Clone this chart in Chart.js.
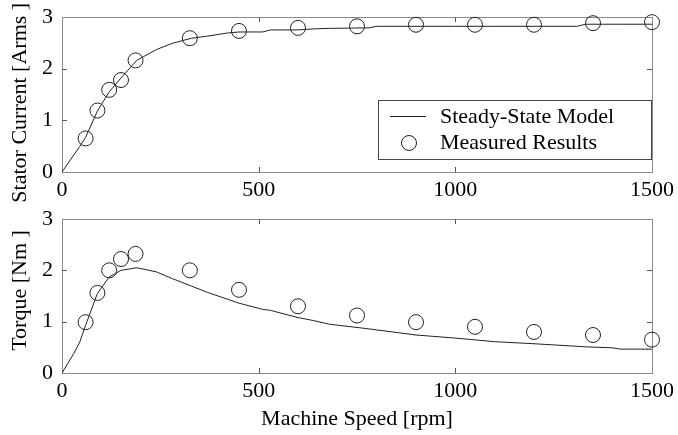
<!DOCTYPE html>
<html>
<head>
<meta charset="utf-8">
<script src="https://cdn.jsdelivr.net/npm/chart.js@4.4.0/dist/chart.umd.min.js"></script>
<style>
  html, body { margin: 0; padding: 0; background: #fff; }
  #wrap { position: relative; width: 678px; height: 435px; overflow: hidden; }
  .box { position: absolute; left: 0; width: 678px; }
  #topBox { top: 0; height: 215px; }
  #botBox { top: 195px; height: 240px; }
</style>
</head>
<body>
<div id="wrap">
  <div class="box" id="topBox"><canvas id="currentChart"></canvas></div>
  <div class="box" id="botBox"><canvas id="torqueChart"></canvas></div>
</div>
<script>
// Measured points (rpm)
const measuredSpeed = [60, 90, 120, 150, 187, 325, 450, 600, 750, 900, 1050, 1200, 1350, 1500];
const measuredCurrent = [0.65, 1.19, 1.59, 1.78, 2.16, 2.59, 2.73, 2.79, 2.82, 2.85, 2.85, 2.85, 2.88, 2.9];
const measuredTorque = [0.99, 1.56, 2.0, 2.22, 2.32, 2.0, 1.62, 1.3, 1.12, 0.99, 0.9, 0.8, 0.74, 0.65];

// Steady-state model curves
const modelSpeed = [0, 30, 45, 60, 90, 120, 150, 190, 240, 280, 330, 370, 420, 450, 510, 530, 600, 640, 680, 780, 800, 900, 1000, 1100, 1200, 1310, 1330, 1400, 1420, 1500];
const modelCurrent = [0, 0.33, 0.49, 0.67, 1.18, 1.55, 1.82, 2.16, 2.37, 2.49, 2.59, 2.63, 2.69, 2.71, 2.71, 2.75, 2.75, 2.77, 2.78, 2.79, 2.82, 2.82, 2.82, 2.82, 2.82, 2.82, 2.86, 2.86, 2.86, 2.86];
const modelTorque = [0, 0.38, 0.6, 0.93, 1.55, 1.87, 2.0, 2.05, 1.97, 1.84, 1.69, 1.57, 1.44, 1.36, 1.24, 1.22, 1.08, 1.02, 0.95, 0.86, 0.84, 0.74, 0.68, 0.61, 0.57, 0.52, 0.51, 0.49, 0.465, 0.465];

const xTicks = [0, 500, 1000, 1500];
const yTicks = [0, 1, 2, 3];

const FONT = '"Liberation Serif", "Times New Roman", serif';
const FSIZE = 22;
const ink = '#222';
const frameColor = '#8a8a8a';

const toPoints = (xs, ys) => xs.map((v, i) => ({ x: v, y: ys[i] }));

// Box frame with inward tick marks on all four sides
const frameTicks = {
    id: 'frameTicks',
    beforeDatasetsDraw(chart) {
        const { ctx, chartArea: a, scales: { x, y } } = chart;
        ctx.save();
        ctx.strokeStyle = frameColor;
        ctx.lineWidth = 1;
        ctx.strokeRect(Math.round(a.left) + 0.5, Math.round(a.top) + 0.5,
            Math.round(a.right - a.left), Math.round(a.bottom - a.top));
        ctx.strokeStyle = '#555';
        ctx.beginPath();
        x.ticks.slice(1, -1).forEach(t => {
            const px = Math.round(x.getPixelForValue(t.value)) + 0.5;
            ctx.moveTo(px, a.top); ctx.lineTo(px, a.top + 5);
            ctx.moveTo(px, a.bottom); ctx.lineTo(px, a.bottom - 5);
        });
        y.ticks.slice(1, -1).forEach(t => {
            const py = Math.round(y.getPixelForValue(t.value)) + 0.5;
            ctx.moveTo(a.left, py); ctx.lineTo(a.left + 5, py);
            ctx.moveTo(a.right, py); ctx.lineTo(a.right - 5, py);
        });
        ctx.stroke();
        ctx.restore();
    }
};

// Legend box drawn inside the plot area
const boxLegend = {
    id: 'boxLegend',
    afterDraw(chart, args, opts) {
        if (!opts.show) return;
        const { ctx, chartArea: a } = chart;
        const left = a.left + 316, top = a.top + 83, w = 273, h = 59;
        ctx.save();
        ctx.fillStyle = '#fff';
        ctx.fillRect(left, top, w, h);
        ctx.strokeStyle = '#444';
        ctx.lineWidth = 1;
        ctx.strokeRect(left + 0.5, top + 0.5, w, h);
        ctx.font = FSIZE + 'px ' + FONT;
        ctx.fillStyle = '#000';
        ctx.textBaseline = 'middle';
        const rows = [top + 16, top + 42];
        chart.data.datasets.forEach((ds, i) => {
            const cy = rows[i];
            ctx.strokeStyle = ds.borderColor;
            ctx.beginPath();
            if (ds.pointRadius === 0) {
                ctx.moveTo(left + 12, cy + 0.5); ctx.lineTo(left + 48, cy + 0.5);
            } else {
                ctx.arc(left + 31, cy + 1, 7.5, 0, Math.PI * 2);
            }
            ctx.stroke();
            ctx.fillText(ds.label, left + 62, cy + 1);
        });
        ctx.restore();
    }
};

function makeChart(id, yValues, modelValues, yTitle, opts) {
    return new Chart(document.getElementById(id), {
        type: 'scatter',
        data: {
            datasets: [{
                label: 'Steady-State Model',
                data: toPoints(modelSpeed, modelValues),
                showLine: true,
                borderColor: ink,
                borderWidth: 1,
                pointRadius: 0,
                tension: 0
            }, {
                label: 'Measured Results',
                data: toPoints(measuredSpeed, yValues),
                showLine: false,
                borderColor: ink,
                backgroundColor: 'rgba(0,0,0,0)',
                borderWidth: 1,
                pointRadius: 7.5,
                pointStyle: 'circle',
                clip: false
            }]
        },
        options: {
            responsive: true,
            maintainAspectRatio: false,
            animation: false,
            layout: { padding: { top: opts.padTop, right: 26, left: 0, bottom: 0 } },
            plugins: {
                legend: { display: false },
                tooltip: { enabled: false },
                boxLegend: { show: opts.legend }
            },
            scales: {
                x: {
                    type: 'linear',
                    min: 0,
                    max: 1500,
                    afterBuildTicks: s => { s.ticks = xTicks.map(v => ({ value: v })); },
                    grid: { display: false, drawTicks: false },
                    border: { display: false },
                    ticks: {
                        color: '#000', padding: 5, maxRotation: 0,
                        font: { family: FONT, size: FSIZE },
                        callback: v => String(v)
                    },
                    title: {
                        display: opts.xTitle,
                        text: 'Machine Speed [rpm]',
                        color: '#000',
                        font: { family: FONT, size: FSIZE },
                        padding: { top: 3, bottom: 3 }
                    },
                    afterFit: s => {
                        s.height = opts.xHeight;
                        s.paddingLeft = 0; s.paddingRight = 0;
                    }
                },
                y: {
                    min: 0,
                    max: 3,
                    afterBuildTicks: s => { s.ticks = yTicks.map(v => ({ value: v })); },
                    grid: { display: false, drawTicks: false },
                    border: { display: false },
                    ticks: {
                        color: '#000', padding: 9,
                        font: { family: FONT, size: FSIZE },
                        callback: v => String(v)
                    },
                    title: {
                        display: true,
                        text: yTitle,
                        color: '#000',
                        font: { family: FONT, size: FSIZE },
                        padding: { top: 7, bottom: 7 }
                    },
                    afterFit: s => {
                        s.width = 62;
                        s.paddingTop = 0; s.paddingBottom = 0;
                    }
                }
            }
        },
        plugins: [frameTicks, boxLegend]
    });
}

// spaces nudge the rotated titles along the axis, as in the original figure
makeChart('currentChart', measuredCurrent, modelCurrent, 'Stator Current [Arms ]   ',
    { padTop: 17, xHeight: 43, legend: true, xTitle: false });
makeChart('torqueChart', measuredTorque, modelTorque, '  Torque [Nm ]',
    { padTop: 24, xHeight: 62, legend: false, xTitle: true });
</script>
</body>
</html>
